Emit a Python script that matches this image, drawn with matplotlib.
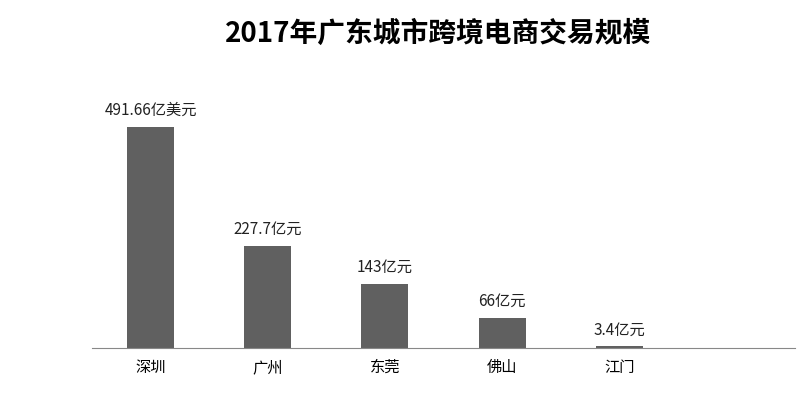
import matplotlib
matplotlib.use("Agg")
import matplotlib.pyplot as plt

plt.rcParams['font.family'] = ['Noto Sans CJK SC', 'DejaVu Sans']

cities = ["深圳", "广州", "东莞", "佛山", "江门"]
values = [491.66, 227.7, 143, 66, 3.4]
labels = ["491.66亿美元", "227.7亿元", "143亿元", "66亿元", "3.4亿元"]

fig = plt.figure(figsize=(8.11, 4.01), dpi=100)
ax = fig.add_axes([92/811, 53/401, 703/811, 288/401])
x = list(range(len(cities)))
ax.bar(x, values, width=0.4, color="#606060")
for xi, v, l in zip(x, values, labels):
    ax.text(xi, v + 18, l, ha="center", va="bottom", fontsize=11, color="#222222")
ax.set_xlim(-0.5, 5.5)
ax.set_ylim(0, 641)
ax.set_xticks(x)
ax.set_xticklabels(cities, fontsize=11)
ax.tick_params(axis='x', length=0, pad=8)
ax.set_yticks([])
for s in ["top", "right", "left"]:
    ax.spines[s].set_visible(False)
ax.spines["bottom"].set_color("#888888")
fig.text(0.54, 0.915, "2017年广东城市跨境电商交易规模", ha="center", va="center",
         fontsize=20, fontweight="bold")
fig.savefig("out.png", dpi=100)
